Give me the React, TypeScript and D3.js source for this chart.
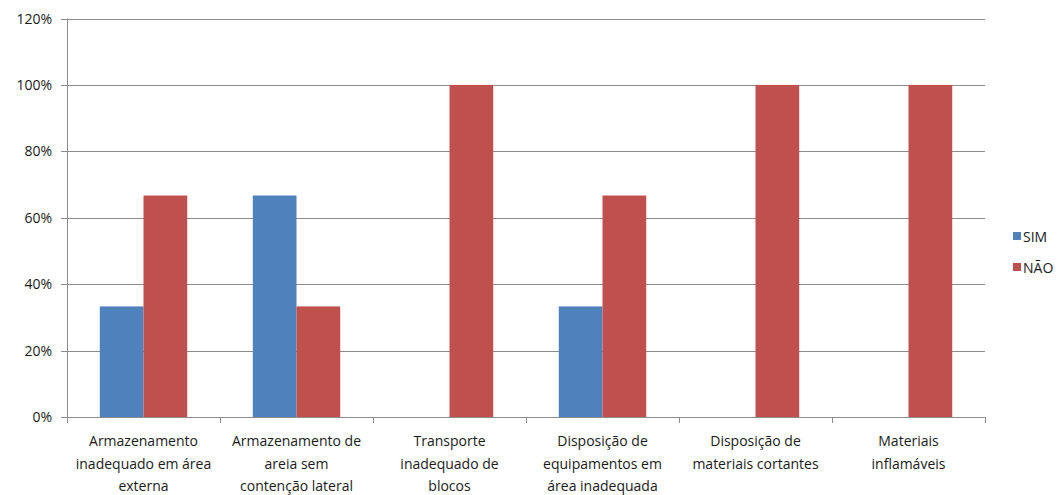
import { useEffect, useRef } from 'react';
import * as d3 from 'd3';

const categories = [
  ['Armazenamento', 'inadequado em área', 'externa'],
  ['Armazenamento de', 'areia sem', 'contenção lateral'],
  ['Transporte', 'inadequado de', 'blocos'],
  ['Disposição de', 'equipamentos em', 'área inadequada'],
  ['Disposição de', 'materiais cortantes'],
  ['Materiais', 'inflamáveis'],
];
const simValues = [0.333, 0.667, 0, 0.333, 0, 0];
const naoValues = [0.667, 0.333, 1, 0.667, 1, 1];
const seriesNames = ['SIM', 'NÃO'];
const seriesColors = ['#4F81BD', '#C0504D'];
const yTicks = [0, 0.2, 0.4, 0.6, 0.8, 1, 1.2];

const App = () => {
  const ref = useRef<SVGSVGElement>(null);

  useEffect(() => {
    const svg = d3.select(ref.current);
    svg.selectAll('*').remove();

    const left = 67;
    const right = 985;
    const top = 18.5;
    const bottom = 417;
    const font = 'Open Sans, Noto Sans, sans-serif';

    const x = d3.scaleBand().domain(d3.range(categories.length).map(String)).range([left, right]);
    const inner = d3.scaleBand().domain(seriesNames).range([0, x.bandwidth()]).paddingOuter(0.75).paddingInner(0);
    const y = d3.scaleLinear().domain([0, 1.2]).range([bottom, top]);

    // gridlines
    svg
      .selectAll('line.grid')
      .data(yTicks)
      .enter()
      .append('line')
      .attr('x1', left - 6)
      .attr('x2', right)
      .attr('y1', (d) => Math.round(y(d)) + 0.5)
      .attr('y2', (d) => Math.round(y(d)) + 0.5)
      .attr('stroke', '#8c8c8c')
      .attr('stroke-width', 1);

    // y axis line
    svg
      .append('line')
      .attr('x1', left + 0.5)
      .attr('x2', left + 0.5)
      .attr('y1', top)
      .attr('y2', bottom)
      .attr('stroke', '#8c8c8c');

    // y labels
    svg
      .selectAll('text.ylab')
      .data(yTicks)
      .enter()
      .append('text')
      .attr('x', 52)
      .attr('y', (d) => y(d) + 5)
      .attr('text-anchor', 'end')
      .attr('font-family', font)
      .attr('font-size', 14)
      .attr('fill', '#1a1a1a')
      .text((d) => `${Math.round(d * 100)}%`);

    // bars
    const data = categories.map((_, i) => [simValues[i], naoValues[i]]);
    data.forEach((vals, i) => {
      vals.forEach((v, s) => {
        if (v <= 0) return;
        svg
          .append('rect')
          .attr('x', (x(String(i)) ?? 0) + (inner(seriesNames[s]) ?? 0))
          .attr('y', y(v))
          .attr('width', inner.bandwidth())
          .attr('height', bottom - y(v))
          .attr('fill', seriesColors[s]);
      });
    });

    // x axis ticks
    svg
      .selectAll('line.xtick')
      .data(d3.range(categories.length + 1))
      .enter()
      .append('line')
      .attr('x1', (d) => Math.round(left + d * x.step()) + 0.5)
      .attr('x2', (d) => Math.round(left + d * x.step()) + 0.5)
      .attr('y1', bottom)
      .attr('y2', bottom + 6)
      .attr('stroke', '#8c8c8c');

    // x labels
    categories.forEach((lines, i) => {
      const cx = (x(String(i)) ?? 0) + x.bandwidth() / 2;
      const t = svg
        .append('text')
        .attr('text-anchor', 'middle')
        .attr('font-family', font)
        .attr('font-size', 14)
        .attr('fill', '#1a1a1a');
      lines.forEach((ln, j) => {
        t.append('tspan').attr('x', cx).attr('y', 446 + j * 22.5).text(ln);
      });
    });

    // legend
    seriesNames.forEach((name, s) => {
      const ly = 237 + s * 31;
      svg.append('rect').attr('x', 1013).attr('y', ly - 5).attr('width', 8).attr('height', 8).attr('fill', seriesColors[s]);
      svg
        .append('text')
        .attr('x', 1023)
        .attr('y', ly + 5)
        .attr('font-family', font)
        .attr('font-size', 14)
        .attr('fill', '#1a1a1a')
        .text(name);
    });
  }, []);

  return <svg ref={ref} width={1060} height={495} style={{ position: 'absolute', left: 0, top: 0 }}></svg>;
};

export default App;
